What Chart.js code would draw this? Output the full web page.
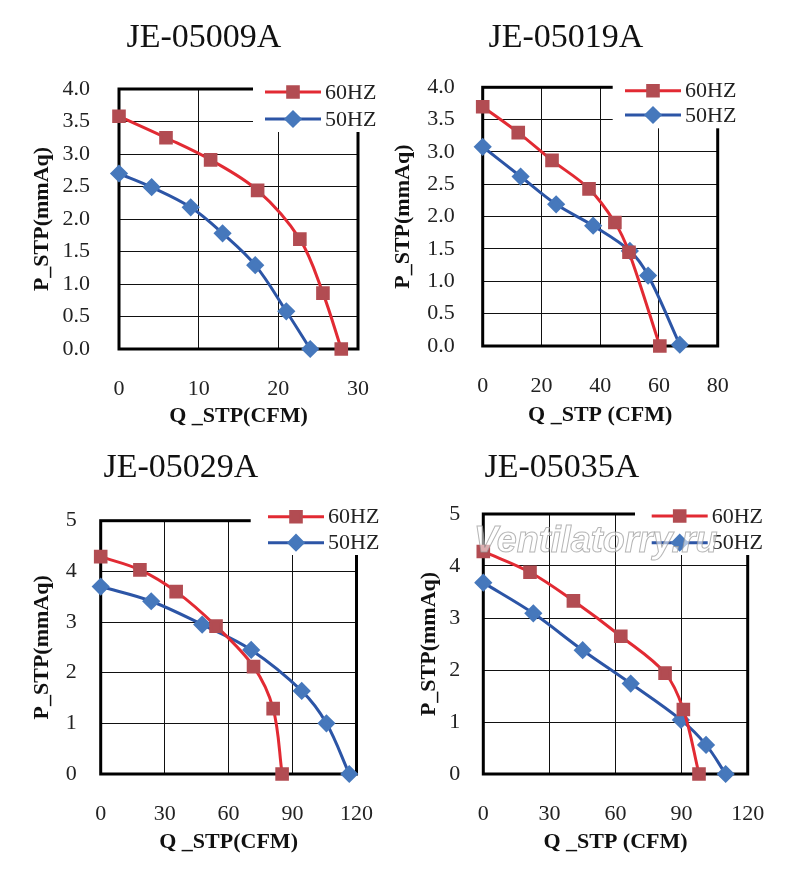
<!DOCTYPE html>
<html>
<head>
<meta charset="utf-8">
<script src="https://cdn.jsdelivr.net/npm/chart.js@4.4.1/dist/chart.umd.min.js"></script>
<style>
  body { margin: 0; background: #fff; }
  #page { position: relative; width: 800px; height: 889px; overflow: hidden; }
  canvas { position: absolute; }
  .ttl { position: absolute; z-index: 2; width: 300px; text-align: center; font: 34px 'Liberation Serif', 'Times New Roman', serif; line-height: 1; color: #111; }
  .wm { position: absolute; z-index: 2; font: italic bold 36px 'Liberation Sans', Arial, sans-serif; line-height: 1;
        color: rgba(255,255,255,0.55); -webkit-text-stroke: 1px rgba(150,150,150,0.7); white-space: nowrap; }
</style>
</head>
<body>
<div id="page">
  <canvas id="c1" width="400" height="445" style="left:0;top:0"></canvas>
  <canvas id="c2" width="420" height="445" style="left:380px;top:0"></canvas>
  <canvas id="c3" width="400" height="444" style="left:0;top:445px"></canvas>
  <canvas id="c4" width="410" height="444" style="left:390px;top:445px"></canvas>
  <div class="ttl" style="left:54px;top:19px">JE-05009A</div>
  <div class="ttl" style="left:416px;top:19px">JE-05019A</div>
  <div class="ttl" style="left:31px;top:449px">JE-05029A</div>
  <div class="ttl" style="left:412px;top:449px">JE-05035A</div>
  <div class="wm" style="left:474px;top:522px">Ventilatorry.ru</div>
</div>
<script>
// JE-05009A
const q09_60 = [0, 5.9, 11.5, 17.4, 22.7, 25.6, 27.9];
const p09_60 = [3.58, 3.25, 2.91, 2.44, 1.69, 0.86, 0];
const q09_50 = [0, 4.1, 9.0, 13.0, 17.1, 21.0, 24.0];
const p09_50 = [2.70, 2.49, 2.18, 1.78, 1.29, 0.58, 0];
// JE-05019A
const q19_60 = [0, 12.1, 23.6, 36.2, 45.0, 49.8, 60.3];
const p19_60 = [3.70, 3.30, 2.87, 2.43, 1.91, 1.45, 0];
const q19_50 = [0, 12.9, 25.0, 37.6, 50.1, 56.3, 67.1];
const p19_50 = [3.08, 2.62, 2.19, 1.86, 1.47, 1.09, 0.02];
// JE-05029A
const q29_60 = [0, 18.4, 35.4, 54.1, 71.7, 80.9, 85.1];
const p29_60 = [4.29, 4.03, 3.60, 2.92, 2.12, 1.29, 0];
const q29_50 = [0, 23.7, 47.6, 70.6, 94.3, 105.9, 116.6];
const p29_50 = [3.70, 3.41, 2.95, 2.45, 1.64, 1.00, 0];
// JE-05035A
const q35_60 = [0, 21.2, 40.9, 62.4, 82.5, 90.8, 97.9];
const p35_60 = [4.28, 3.88, 3.33, 2.65, 1.94, 1.24, 0];
const q35_50 = [0, 22.7, 45.1, 66.9, 89.7, 101.1, 110];
const p35_50 = [3.68, 3.09, 2.38, 1.74, 1.04, 0.56, 0];

const seriesLabels = ['60HZ', '50HZ'];
const xTitles = ['Q _STP(CFM)', 'Q _STP (CFM)', 'Q _STP(CFM)', 'Q _STP (CFM)'];
const yTitle = 'P_STP(mmAq)';

Chart.defaults.font.family = "'Liberation Serif', 'Times New Roman', serif";
Chart.defaults.color = '#222';

const pts = (xs, ys) => xs.map((x, i) => ({ x: x, y: ys[i] }));

// frame: thick box round the plot, drawn under the curves
const framePlugin = {
  id: 'frame',
  beforeDatasetsDraw(chart) {
    const a = chart.chartArea, ctx = chart.ctx;
    ctx.save();
    ctx.strokeStyle = '#000';
    ctx.lineWidth = 3;
    ctx.strokeRect(a.left, a.top, a.right - a.left, a.bottom - a.top);
    ctx.restore();
  }
};

// legend sits on a white patch that cuts into the frame's top right corner
const hzLegend = {
  id: 'hzLegend',
  afterDraw(chart, args, o) {
    const ctx = chart.ctx;
    const top = chart.chartArea.top - 12;
    ctx.save();
    ctx.fillStyle = '#fff';
    ctx.fillRect(o.cutX, top, chart.width - o.cutX, o.cutY - top);
    chart.data.datasets.forEach((ds, i) => {
      const y = o.rows[i];
      ctx.strokeStyle = ds.borderColor;
      ctx.lineWidth = 3;
      ctx.beginPath();
      ctx.moveTo(o.x, y);
      ctx.lineTo(o.x + 56, y);
      ctx.stroke();
      ctx.fillStyle = ds.pointBackgroundColor;
      ctx.strokeStyle = ds.pointBorderColor;
      Chart.helpers.drawPoint(ctx, { pointStyle: ds.pointStyle, radius: ds.pointRadius, rotation: 0, borderWidth: 1 }, o.x + 28, y);
      ctx.fillStyle = '#222';
      ctx.font = "22px 'Liberation Serif', 'Times New Roman', serif";
      ctx.textBaseline = 'middle';
      ctx.fillText(ds.label, o.x + 60, y + 1);
    });
    ctx.restore();
  }
};

function makeChart(id, s60, s50, box, xAxis, yAxis, legend) {
  new Chart(document.getElementById(id), {
    type: 'line',
    data: {
      datasets: [{
        label: seriesLabels[0],
        data: s60,
        borderColor: '#e22a33',
        borderWidth: 3,
        tension: 0.35,
        pointStyle: 'rect',
        pointRadius: 7.5,
        pointBackgroundColor: '#b24c52',
        pointBorderColor: '#b24c52',
        clip: false
      }, {
        label: seriesLabels[1],
        data: s50,
        borderColor: '#2c55a6',
        borderWidth: 3,
        tension: 0.35,
        pointStyle: 'rectRot',
        pointRadius: 7,
        pointBackgroundColor: '#4678bc',
        pointBorderColor: '#4678bc',
        clip: false
      }]
    },
    options: {
      responsive: false,
      animation: false,
      layout: { padding: { left: 0, top: box.top, right: box.right, bottom: 0 } },
      plugins: { legend: { display: false }, tooltip: { enabled: false }, hzLegend: legend },
      scales: {
        x: {
          type: 'linear', min: 0, max: xAxis.max,
          ticks: { stepSize: xAxis.step, padding: 27, font: { size: 22 } },
          grid: { color: '#111', lineWidth: 1, drawTicks: false },
          border: { display: false },
          title: { display: true, text: xAxis.title, font: { size: 22, weight: 'bold' }, color: '#111',
                   padding: { top: 0, bottom: xAxis.titlePad } },
          afterFit(scale) { scale.height = xAxis.height; }
        },
        y: {
          min: 0, max: yAxis.max,
          ticks: { stepSize: yAxis.step, padding: yAxis.tickPad, font: { size: 22 },
                   callback: v => yAxis.step < 1 ? v.toFixed(1) : v },
          grid: { color: '#111', lineWidth: 1, drawTicks: false },
          border: { display: false },
          title: { display: true, text: yTitle, font: { size: 22, weight: 'bold' }, color: '#111',
                   padding: { top: yAxis.titlePad, bottom: 0 } },
          afterFit(scale) { scale.width = yAxis.width; }
        }
      }
    },
    plugins: [framePlugin, hzLegend]
  });
}

makeChart('c1', pts(q09_60, p09_60), pts(q09_50, p09_50),
  { top: 89, right: 42 },
  { max: 30, step: 10, title: xTitles[0], titlePad: 15.8, height: 96 },
  { max: 4, step: 0.5, tickPad: 29, titlePad: 28.8, width: 119 },
  { cutX: 253, cutY: 132, x: 265, rows: [92, 119] });

makeChart('c2', pts(q19_60, p19_60), pts(q19_50, p19_50),
  { top: 87.3, right: 82.3 },
  { max: 80, step: 20, title: xTitles[1], titlePad: 16.8, height: 99 },
  { max: 4, step: 0.5, tickPad: 28, titlePad: 9.8, width: 102.7 },
  { cutX: 232.7, cutY: 128.3, x: 245, rows: [90.7, 115] });

makeChart('c3', pts(q29_60, p29_60), pts(q29_50, p29_50),
  { top: 75.7, right: 38.3 },
  { max: 120, step: 30, title: xTitles[2], titlePad: 33.8, height: 115 },
  { max: 5, step: 1, tickPad: 24, titlePad: 28.8, width: 100.7 },
  { cutX: 250.7, cutY: 110, x: 268, rows: [71.7, 97.7] });

makeChart('c4', pts(q35_60, p35_60), pts(q35_50, p35_50),
  { top: 69, right: 52.3 },
  { max: 120, step: 30, title: xTitles[3], titlePad: 33.8, height: 115 },
  { max: 5, step: 1, tickPad: 23, titlePad: 25.8, width: 93.3 },
  { cutX: 245, cutY: 110, x: 261.7, rows: [71, 97.7] });
</script>
</body>
</html>
